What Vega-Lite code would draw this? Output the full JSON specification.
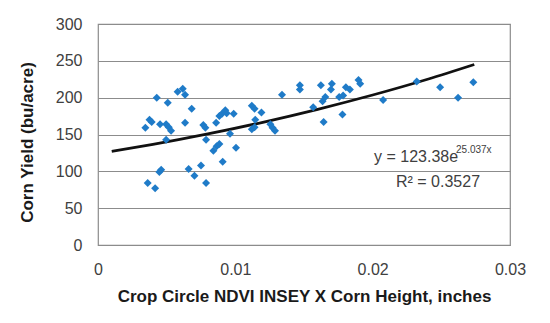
{
  "$schema": "https://vega.github.io/schema/vega-lite/v6.json",
  "width": 412,
  "height": 221,
  "autosize": "none",
  "padding": {"left": 98, "top": 24, "right": 40, "bottom": 78},
  "background": "white",
  "config": {
    "view": {"stroke": "#8c8c8c", "strokeWidth": 1.2},
    "font": "Liberation Sans",
    "axis": {"labelFont": "Liberation Sans", "titleFont": "Liberation Sans", "labelColor": "#404040", "titleColor": "#1a1a1a", "labelFontSize": 16, "titleFontSize": 17, "titleFontWeight": "bold", "ticks": false, "domain": false}
  },
  "datasets": {
    "points": [
      {"x": 0.00345, "y": 159}, {"x": 0.00375, "y": 170}, {"x": 0.00391, "y": 167}, {"x": 0.00428, "y": 200},
      {"x": 0.00508, "y": 193}, {"x": 0.00452, "y": 164}, {"x": 0.00496, "y": 164}, {"x": 0.00515, "y": 160},
      {"x": 0.00532, "y": 155}, {"x": 0.00496, "y": 143}, {"x": 0.0058, "y": 208}, {"x": 0.00617, "y": 212},
      {"x": 0.00634, "y": 204}, {"x": 0.00682, "y": 185}, {"x": 0.00634, "y": 166}, {"x": 0.0046, "y": 102},
      {"x": 0.00447, "y": 99}, {"x": 0.00362, "y": 84}, {"x": 0.00416, "y": 77}, {"x": 0.0066, "y": 103},
      {"x": 0.00702, "y": 94}, {"x": 0.0075, "y": 108}, {"x": 0.00787, "y": 84}, {"x": 0.00767, "y": 163},
      {"x": 0.00782, "y": 159}, {"x": 0.00787, "y": 143}, {"x": 0.0086, "y": 166}, {"x": 0.00884, "y": 175},
      {"x": 0.00903, "y": 178}, {"x": 0.00927, "y": 183}, {"x": 0.00937, "y": 179}, {"x": 0.00988, "y": 178},
      {"x": 0.00961, "y": 151}, {"x": 0.0084, "y": 128}, {"x": 0.00864, "y": 134}, {"x": 0.00884, "y": 137},
      {"x": 0.00908, "y": 113}, {"x": 0.01005, "y": 132}, {"x": 0.0112, "y": 189}, {"x": 0.0114, "y": 185},
      {"x": 0.0119, "y": 180}, {"x": 0.01145, "y": 170}, {"x": 0.0112, "y": 157}, {"x": 0.0114, "y": 160},
      {"x": 0.01255, "y": 164}, {"x": 0.01271, "y": 159}, {"x": 0.01289, "y": 155}, {"x": 0.0134, "y": 204},
      {"x": 0.0147, "y": 217}, {"x": 0.0147, "y": 211}, {"x": 0.01623, "y": 217}, {"x": 0.01703, "y": 219},
      {"x": 0.01696, "y": 211}, {"x": 0.01655, "y": 201}, {"x": 0.01635, "y": 195}, {"x": 0.01567, "y": 187},
      {"x": 0.01643, "y": 167}, {"x": 0.01756, "y": 201}, {"x": 0.01785, "y": 203}, {"x": 0.01805, "y": 214},
      {"x": 0.01834, "y": 211}, {"x": 0.0178, "y": 177}, {"x": 0.01897, "y": 224}, {"x": 0.01909, "y": 219},
      {"x": 0.02076, "y": 197}, {"x": 0.02321, "y": 222}, {"x": 0.02491, "y": 214}, {"x": 0.02622, "y": 200},
      {"x": 0.02733, "y": 221}
    ],
    "trend": [
      {"x": 0.001, "y": 127}, {"x": 0.004, "y": 136.5}, {"x": 0.008, "y": 150.7}, {"x": 0.012, "y": 166.6},
      {"x": 0.016, "y": 184.2}, {"x": 0.02, "y": 203.6}, {"x": 0.024, "y": 225}, {"x": 0.0274, "y": 245}
    ],
    "labels": [
      {"x": 0.0201, "y": 120, "t": "y = 123.38e", "kind": "main"},
      {"x": 0.02607, "y": 129, "t": "25.037x", "kind": "sup"},
      {"x": 0.02476, "y": 86, "t": "R² = 0.3527", "kind": "r2"}
    ]
  },
  "encoding": {
    "x": {"field": "x", "type": "quantitative", "scale": {"domain": [0, 0.03], "nice": false, "zero": false},
      "axis": {"values": [0, 0.01, 0.02, 0.03], "format": ".2~f", "grid": false, "labelFlush": false, "labelPadding": 16, "titlePadding": 11, "title": "Crop Circle NDVI INSEY X Corn Height, inches"}},
    "y": {"field": "y", "type": "quantitative", "scale": {"domain": [0, 300], "nice": false},
      "axis": {"values": [0, 50, 100, 150, 200, 250, 300], "grid": true, "gridColor": "#8c8c8c", "gridWidth": 1.2, "labelPadding": 16, "titlePadding": 19, "titleY": 118, "title": "Corn Yield (bu/acre)"}}
  },
  "layer": [
    {
      "data": {"name": "trend"},
      "mark": {"type": "line", "color": "#111111", "strokeWidth": 2.8, "interpolate": "monotone"}
    },
    {
      "data": {"name": "points"},
      "mark": {"type": "point", "shape": "diamond", "filled": true, "color": "#1f7bc8", "size": 64, "opacity": 1}
    },
    {
      "data": {"name": "labels"},
      "transform": [{"filter": "datum.kind == 'main'"}],
      "mark": {"type": "text", "align": "left", "baseline": "middle", "fontSize": 16, "color": "#404040"},
      "encoding": {"text": {"field": "t"}}
    },
    {
      "data": {"name": "labels"},
      "transform": [{"filter": "datum.kind == 'sup'"}],
      "mark": {"type": "text", "align": "left", "baseline": "middle", "fontSize": 10, "color": "#404040"},
      "encoding": {"text": {"field": "t"}}
    },
    {
      "data": {"name": "labels"},
      "transform": [{"filter": "datum.kind == 'r2'"}],
      "mark": {"type": "text", "align": "center", "baseline": "middle", "fontSize": 16, "color": "#404040"},
      "encoding": {"text": {"field": "t"}}
    }
  ]
}
